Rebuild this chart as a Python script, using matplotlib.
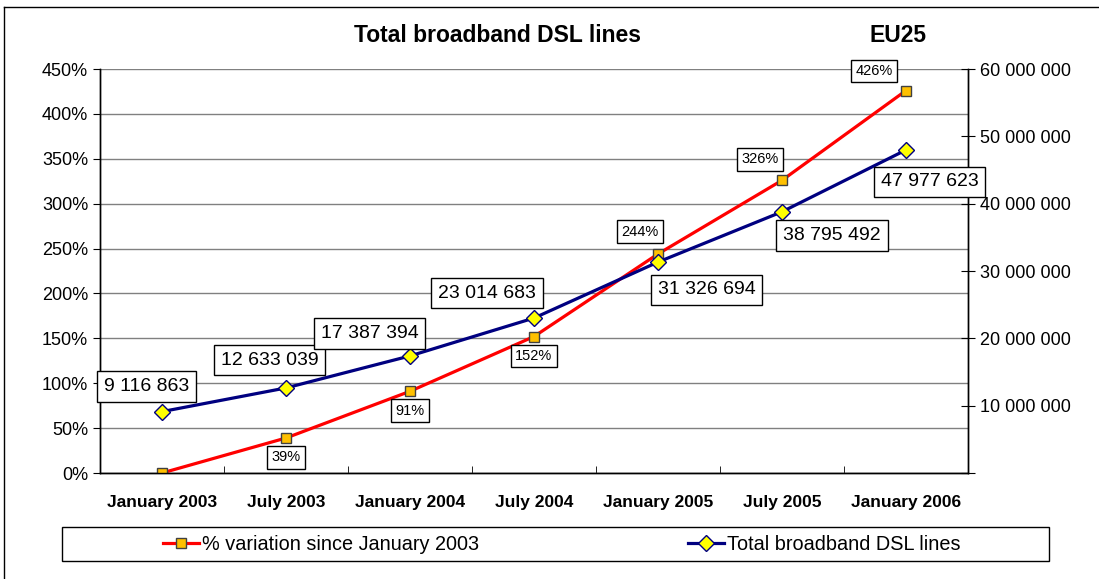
import matplotlib
matplotlib.use('Agg')
import matplotlib.pyplot as plt
from matplotlib.lines import Line2D
from matplotlib.patches import Rectangle
from matplotlib.ticker import FuncFormatter, MultipleLocator

plt.rcParams['font.family'] = ['Liberation Sans', 'DejaVu Sans']

# Data
periods = ['January 2003', 'July 2003', 'January 2004', 'July 2004',
           'January 2005', 'July 2005', 'January 2006']
pct_variation = [0, 39, 91, 152, 244, 326, 426]
dsl_lines = [9116863, 12633039, 17387394, 23014683, 31326694, 38795492, 47977623]

# label offsets in points (dx, dy) for each data label
pct_offsets = [None, (0, -14), (0, -14), (0, -14), (-13, 16), (-16, 15), (-23, 14)]
line_offsets = [(-11, 18), (-12, 20), (-29, 16), (-34, 18), (35, -20), (36, -17), (17, -23)]


def fmt_space(v):
    return f'{int(v):,}'.replace(',', ' ')


fig = plt.figure(figsize=(10.99, 5.79), dpi=100)
ax1 = fig.add_axes([100 / 1099, 1 - 473 / 579, 868 / 1099, 404 / 579])
ax2 = ax1.twinx()

x = list(range(len(periods)))

# percentage series on the left axis
ax1.plot(x, pct_variation, color='#FF0000', lw=2.3, marker='s', ms=7,
         mfc='#FFC000', mec='#404040', mew=1, zorder=3)
ax1.set_ylim(0, 450)
ax1.set_xlim(-0.5, len(periods) - 0.5)
ax1.yaxis.set_major_locator(MultipleLocator(50))
ax1.yaxis.set_major_formatter(FuncFormatter(lambda v, p: f'{int(v)}%'))
ax1.grid(axis='y', color='#808080', lw=1)
ax1.set_axisbelow(True)

# DSL lines on the right axis
ax2.plot(x, dsl_lines, color='#000080', lw=2.3, marker='D', ms=8,
         mfc='#FFFF00', mec='#000080', mew=1, zorder=3)
ax2.set_ylim(0, 60000000)
ax2.yaxis.set_major_locator(MultipleLocator(10000000))
ax2.yaxis.set_major_formatter(FuncFormatter(lambda v, p: '' if v == 0 else fmt_space(v)))

# x axis: labels at centres, ticks at boundaries
ax1.set_xticks(x)
ax1.set_xticklabels(periods, fontweight='bold', fontsize=12.5)
ax1.tick_params(axis='x', length=0, pad=16)
ax1.set_xticks([i + 0.5 for i in x[:-1]], minor=True)
ax1.tick_params(axis='x', which='minor', direction='in', length=5, color='black')

ax1.tick_params(axis='y', labelsize=13, length=5, color='black', direction='out')
ax2.tick_params(axis='y', labelsize=13, length=10, color='black', direction='inout')

for a in (ax1, ax2):
    a.spines['top'].set_visible(False)
    for s in ('left', 'right', 'bottom'):
        a.spines[s].set_color('black')
        a.spines[s].set_linewidth(1)

box_small = dict(boxstyle='square,pad=0.3', fc='white', ec='black', lw=1)
box_big = dict(boxstyle='square,pad=0.35', fc='white', ec='black', lw=1)

for i, (v, off) in enumerate(zip(pct_variation, pct_offsets)):
    if off is None:
        continue
    ax1.annotate(f'{v}%', (i, v), xytext=off, textcoords='offset points',
                 ha='center', va='center', fontsize=10.5, bbox=box_small, zorder=5)

for i, (v, off) in enumerate(zip(dsl_lines, line_offsets)):
    ax2.annotate(fmt_space(v), (i, v), xytext=off, textcoords='offset points',
                 ha='center', va='center', fontsize=14, bbox=box_big, zorder=5)

# titles
fig.text(497 / 1099, 1 - 36 / 579, 'Total broadband DSL lines', ha='center',
         va='center', fontsize=16.5, fontweight='bold')
fig.text(898 / 1099, 1 - 36 / 579, 'EU25', ha='center', va='center',
         fontsize=16.5, fontweight='bold')

# legend box drawn manually
fig.patches.append(Rectangle((62 / 1099, 1 - 561 / 579), 987 / 1099, 34 / 579,
                             transform=fig.transFigure, fill=False, ec='black', lw=1))
h1 = Line2D([], [], color='#FF0000', lw=2.3, marker='s', ms=7, mfc='#FFC000', mec='#404040')
h2 = Line2D([], [], color='#000080', lw=2.3, marker='D', ms=8, mfc='#FFFF00', mec='#000080')
fig.legend([h1], ['% variation since January 2003'], loc='center left',
           bbox_to_anchor=(145 / 1099, 1 - 544 / 579), frameon=False, fontsize=14.3,
           handlelength=1.8, handletextpad=0.15)
fig.legend([h2], ['Total broadband DSL lines'], loc='center left',
           bbox_to_anchor=(670 / 1099, 1 - 544 / 579), frameon=False, fontsize=14.3,
           handlelength=1.8, handletextpad=0.15)

# outer border
fig.add_artist(Line2D([4 / 1099, 4 / 1099], [0, 1 - 7 / 579], color='black', lw=1,
                      transform=fig.transFigure))
fig.add_artist(Line2D([4 / 1099, 1], [1 - 7 / 579, 1 - 7 / 579], color='black', lw=1,
                      transform=fig.transFigure))

fig.savefig('out.png', dpi=100)
